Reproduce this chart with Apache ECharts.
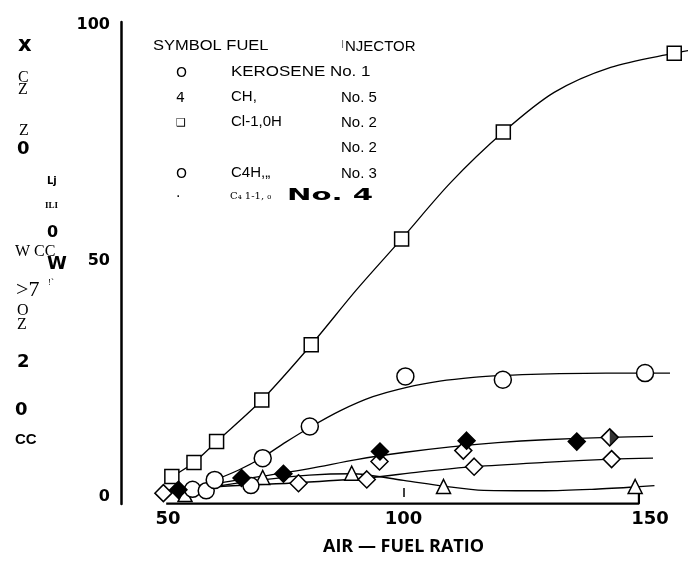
<!DOCTYPE html>
<html>
<head>
<meta charset="utf-8">
<script src="https://cdn.jsdelivr.net/npm/echarts@6.0.0/dist/echarts.min.js"></script>
<style>
html, body { margin: 0; padding: 0; background: #fff; }
#chart { width: 698px; height: 564px; }
</style>
</head>
<body>
<div id="chart"></div>
<script>
// ---- data ----
var xTicks = [50, 100, 150];
var yTicks = [0, 50, 100];
var xTitle = 'AIR \u2014 FUEL RATIO';

// kerosene, injector No. 1 (open circles)
var kerosenePts = [[59.9, 3.6], [70.1, 8.2], [80.1, 14.9], [100.4, 25.5], [121.1, 24.8], [151.3, 26.2]];
var keroseneCurve = [[59, 3.2], [65, 5.7], [70.1, 8.4], [75, 11.6], [80.1, 14.7], [86.5, 18.2], [93.5, 21.2],
    [100.7, 23.2], [107.7, 24.5], [114.8, 25.3], [121, 25.7], [129, 26], [143, 26.2], [156.6, 26.2]];

// CH3OH, injector No. 2 (open squares)
var methanolPts = [[50.8, 4.3], [55.5, 7.3], [60.3, 11.7], [69.9, 20.5], [80.4, 32.2], [99.6, 54.6], [121.2, 77.2], [157.5, 93.9]];
var methanolCurve = [[50.8, 4.3], [55.5, 7.3], [60.3, 11.7], [69.9, 20.5], [80.4, 32.2], [90, 43.8], [99.6, 54.6], [110, 66.5],
    [121.2, 77.2], [132, 85.6], [144, 90.9], [157.5, 93.9], [161.5, 94.6]];

// CH4, injector No. 5 (open triangles)
var methanePts = [[53.6, 0.5], [70.1, 4.1], [89, 5.0], [108.5, 2.2], [149.2, 2.2]];
var methaneCurve = [[52, 0.6], [60, 2.2], [70, 3.6], [80, 4.6], [89, 4.9], [100, 3.5], [108.5, 2.3], [117, 1.4],
    [130, 1.3], [140, 1.6], [149, 2.1], [153.3, 2.4]];

// injector No. 2 (open diamonds)
var diamondPts = [[49, 0.8], [77.7, 2.9], [92.2, 3.7], [115, 6.4], [144.2, 8.0], [94.9, 7.5], [112.7, 9.8]];
var diamondCurve = [[50, 1.0], [61, 2.2], [77.7, 3.0], [92.2, 4.0], [103.5, 5.3], [115, 6.4], [130, 7.3], [144.2, 8.0], [153, 8.2]];

// C4H10, injector No. 3 (open circles, small)
var butane3Pts = [[55.2, 1.6], [58.1, 1.3], [67.6, 2.4]];

// C4H10, injector No. 4 (filled diamonds)
var butane4Pts = [[52.2, 1.5], [65.6, 4.0], [74.5, 4.9], [95, 9.6], [113.4, 11.9], [136.8, 11.7]];
var butane4Half = [[143.8, 12.6]];
var butane4Curve = [[52, 1.5], [60, 2.8], [70, 4.4], [80, 6.0], [90, 7.9], [100, 9.4], [110, 10.6], [120, 11.5],
    [130, 12.1], [143.8, 12.6], [153, 12.8]];

// bottom frame of the x axis
var frameX = [[49.6, -1.4], [150, -1.4], [150, 1.9]];

// legend text (as printed)
var legendHead = ['SYMBOL FUEL', 'I', 'NJECTOR'];
var legendSymbols = ['O', '4', '\u2751', '', 'O', '\u00b7'];
var legendFuels = ['KEROSENE No. 1', 'CH,', 'Cl-1,0H', '', 'C4H,\u201e', 'C\u2084 1-1, \u2080'];
var legendInjectors = ['', 'No. 5', 'No. 2', 'No. 2', 'No. 3', 'No. 4'];

// scattered fragments of the rotated y title
var yTitleBits = ['x', 'C', 'Z', 'Z', '0', 'Lj', 'ILI', '0', 'W', 'CC', 'W', '>7', "!`", 'O', 'Z', '2', '0', 'CC'];

// ---- layout ----
var SANS_B = '"DejaVu Sans"';
var yTitleLayout = [
    [18, 46, 'bold 21px ' + SANS_B],
    [18, 78, '16px "Liberation Serif"'],
    [18, 90, '16px "Liberation Serif"'],
    [19, 131, '16px "Liberation Serif"'],
    [17, 149, 'bold 18px ' + SANS_B],
    [47, 181, 'bold 10px ' + SANS_B],
    [45, 206, 'bold 9px "Liberation Serif"'],
    [47, 233, 'bold 16px ' + SANS_B],
    [15, 252, '16px "Liberation Serif"'],
    [34, 252, '16px "Liberation Serif"'],
    [47, 264, 'bold 18px ' + SANS_B],
    [16, 290, '22px "Liberation Serif"'],
    [48, 283, '9px "Liberation Serif"'],
    [17, 311, '16px "Liberation Serif"'],
    [17, 325, '16px "Liberation Serif"'],
    [17, 362, 'bold 18px ' + SANS_B],
    [15, 410, 'bold 18px ' + SANS_B],
    [15, 440, 'bold 15px "Liberation Sans Narrow", "Liberation Sans"']
];
var legendRowY = [72, 97, 122, 147, 173, 196];

var graphics = [];
function addText(str, x, y, font, extra, fill) {
    var el = {
        type: 'text', x: x, y: y, silent: true,
        style: { text: str, font: font, fill: fill || '#000', verticalAlign: 'middle' }
    };
    if (extra) for (var k in extra) el[k] = extra[k];
    graphics.push(el);
}
yTitleBits.forEach(function (t, i) {
    addText(t, yTitleLayout[i][0], yTitleLayout[i][1], yTitleLayout[i][2]);
});
addText(legendHead[0], 153, 46, '15px "Liberation Sans"', { scaleX: 1.1 });
addText(legendHead[1], 341, 45, '11px "Liberation Sans"', null, '#777');
addText(legendHead[2], 345, 47, '15px "Liberation Sans"');
legendRowY.forEach(function (y, i) {
    if (legendSymbols[i]) addText(legendSymbols[i], 176, y + 1, (i === 2 ? '11px ' : '14px ') + '"DejaVu Sans"');
    if (i === 5) {
        addText(legendFuels[i], 230, y, '10px "DejaVu Serif"');
        addText(legendInjectors[i], 287, y, 'bold 15px ' + SANS_B, { scaleX: 1.95 });
    } else {
        if (legendFuels[i]) addText(legendFuels[i], 231, y, '15px "Liberation Sans"', i === 0 ? { scaleX: 1.13 } : null);
        if (legendInjectors[i]) addText(legendInjectors[i], 341, y + 1, '15px "Liberation Sans"');
    }
});

// ---- chart ----
var chart = echarts.init(document.getElementById('chart'));

var curveStyle = { color: '#000', width: 1.3 };
function curve(name, data) {
    return {
        name: name, type: 'line', data: data, smooth: 0.3, showSymbol: false,
        lineStyle: curveStyle, silent: true, z: 2
    };
}
function marks(name, data, symbol, size, fill) {
    return {
        name: name, type: 'scatter', data: data, symbol: symbol, symbolSize: size,
        itemStyle: { color: fill || '#fff', borderColor: '#000', borderWidth: 1.5, opacity: 1 },
        z: 3
    };
}

var option = {
    animation: false,
    backgroundColor: '#fff',
    grid: { left: 121, right: 12, top: 22, bottom: 60, outerBoundsMode: 'none' },
    xAxis: {
        type: 'value', min: 40, max: 160,
        axisLine: { show: false },
        splitLine: { show: false },
        axisTick: { show: true, inside: true, length: 9, customValues: [100], lineStyle: { color: '#000', width: 1.5 } },
        axisLabel: {
            customValues: xTicks, margin: 6, color: '#000',
            fontFamily: 'DejaVu Sans', fontWeight: 'bold', fontSize: 18,
            formatter: function (v) { return v === 150 ? '{r|150}' : String(v); },
            rich: { r: { padding: [0, 0, 0, 22], fontFamily: 'DejaVu Sans', fontWeight: 'bold', fontSize: 18, color: '#000' } }
        },
        name: xTitle, nameLocation: 'middle', nameGap: 34,
        nameTextStyle: { color: '#000', fontFamily: 'Open Sans', fontWeight: 'bold', fontSize: 18 }
    },
    yAxis: {
        type: 'value', min: -1.5, max: 100.5,
        axisLine: { show: true, lineStyle: { color: '#000', width: 2.5 } },
        axisTick: { show: false },
        splitLine: { show: false },
        axisLabel: {
            customValues: yTicks, margin: 11, color: '#000',
            fontFamily: 'DejaVu Sans', fontWeight: 'bold', fontSize: 16
        }
    },
    graphic: graphics,
    series: [
        {
            name: 'frame', type: 'line', data: frameX, showSymbol: false, silent: true,
            lineStyle: { color: '#000', width: 2.2 }, z: 1
        },
        curve('kerosene curve', keroseneCurve),
        curve('CH3OH curve', methanolCurve),
        curve('CH4 curve', methaneCurve),
        curve('No. 2 curve', diamondCurve),
        curve('C4H10 No. 4 curve', butane4Curve),
        marks('CH4 No. 5', methanePts, 'triangle', 14),
        marks('No. 2', diamondPts, 'diamond', 17),
        marks('C4H10 No. 3', butane3Pts, 'circle', 16),
        marks('KEROSENE No. 1', kerosenePts, 'circle', 17),
        marks('CH3OH No. 2', methanolPts, 'rect', 14),
        marks('C4H10 No. 4', butane4Pts, 'diamond', 17, '#000'),
        marks('C4H10 No. 4 (open)', butane4Half, 'diamond', 17),
        {
            name: 'C4H10 No. 4 (half)', type: 'scatter', data: butane4Half,
            symbol: 'path://M0,0 L1,1 L0,2 Z', symbolSize: [8, 16], symbolOffset: [4, 0],
            itemStyle: { color: '#000' }, z: 4
        }
    ]
};

chart.setOption(option);
</script>
</body>
</html>
